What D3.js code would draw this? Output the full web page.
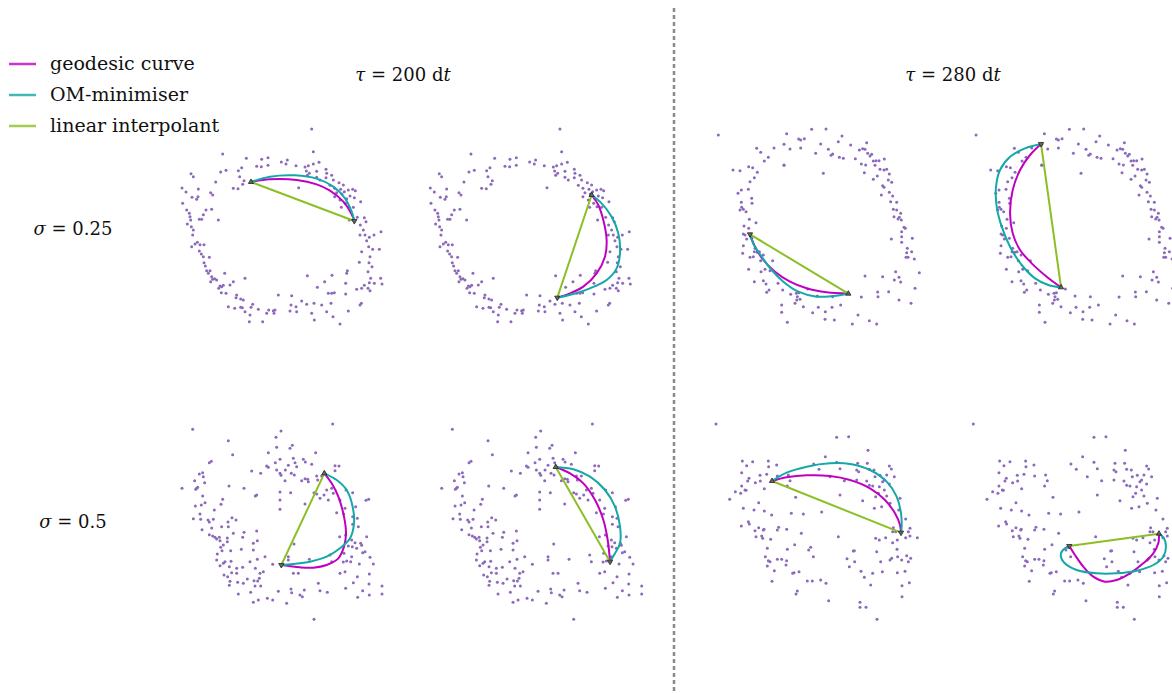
<!DOCTYPE html>
<html>
<head>
<meta charset="utf-8">
<script src="https://cdn.jsdelivr.net/npm/d3@7"></script>
<style>
body { margin: 0; background: #fff; }
text { font-family: "DejaVu Serif", "Liberation Serif", serif; fill: #111; }
</style>
</head>
<body>
<svg id="chart" width="1172" height="693"></svg>
<script>
// sample clouds (units: 1/3 px inside each panel frame)
var cloudA = [[425,27],[430,95],[158,102],[229,115],[275,118],[294,113],[334,126],[352,120],[348,132],[260,139],[274,140],[294,136],[215,143],[205,152],[152,156],[168,151],[378,137],[405,141],[415,137],[430,132],[447,127],[409,153],[418,160],[440,154],[468,148],[470,160],[485,166],[440,172],[412,166],[468,173],[63,161],[70,170],[137,186],[209,170],[222,182],[218,193],[190,205],[204,206],[386,203],[450,180],[480,196],[490,180],[507,188],[520,195],[512,208],[494,205],[500,218],[516,222],[523,215],[535,210],[548,208],[556,212],[494,230],[510,240],[530,236],[540,228],[553,233],[572,245],[526,250],[536,260],[514,262],[550,262],[36,204],[48,216],[66,232],[84,230],[80,238],[85,207],[122,218],[128,225],[38,250],[50,270],[58,280],[60,290],[62,300],[52,312],[64,320],[70,330],[68,345],[95,298],[100,284],[108,270],[125,268],[88,298],[145,300],[538,300],[562,292],[583,293],[588,305],[571,315],[580,330],[570,345],[585,345],[598,352],[590,362],[612,345],[596,380],[633,335],[628,388],[608,388],[575,395],[600,410],[597,428],[606,440],[594,455],[568,427],[532,452],[530,460],[602,475],[598,488],[583,496],[613,490],[632,475],[636,492],[575,505],[594,505],[600,512],[65,380],[75,372],[82,367],[90,374],[102,374],[88,393],[94,402],[100,410],[118,412],[102,428],[106,438],[110,452],[120,452],[115,460],[125,470],[128,478],[122,485],[134,476],[140,480],[164,460],[150,498],[155,500],[160,496],[146,505],[154,518],[168,520],[180,495],[190,485],[225,475],[412,467],[486,466],[464,485],[475,520],[485,520],[493,518],[527,490],[527,522],[560,508],[574,550],[570,555],[442,502],[200,525],[198,533],[212,537],[220,540],[217,563],[175,560],[194,565],[212,562],[225,575],[243,562],[248,553],[240,585],[238,605],[278,605],[265,568],[290,580],[296,570],[310,572],[315,570],[312,580],[325,525],[360,573],[365,527],[378,560],[380,575],[395,543],[410,553],[432,550],[425,580],[433,600],[455,555],[470,575],[483,550],[489,590],[510,612],[535,573],[363,555]];

var cloudB = [[55,45],[260,41],[335,28],[378,27],[426,48],[415,65],[452,75],[500,68],[478,90],[488,86],[495,88],[503,100],[515,103],[510,108],[170,85],[182,97],[222,84],[252,73],[270,87],[296,57],[302,60],[313,56],[302,84],[362,72],[347,100],[385,88],[398,102],[393,106],[418,112],[430,115],[466,116],[484,132],[497,135],[520,123],[528,122],[537,122],[525,136],[553,117],[540,148],[552,150],[560,148],[205,112],[193,123],[252,136],[370,160],[493,158],[520,178],[532,168],[568,162],[575,187],[565,180],[548,197],[552,202],[99,150],[120,152],[146,140],[158,143],[172,157],[163,173],[150,185],[124,210],[114,220],[145,208],[155,235],[124,247],[156,250],[125,262],[130,268],[120,270],[138,275],[148,298],[168,308],[132,318],[146,325],[130,342],[135,345],[155,355],[140,357],[130,377],[128,400],[150,412],[160,410],[163,395],[172,397],[165,385],[178,395],[190,405],[182,422],[218,422],[146,448],[183,455],[195,448],[210,452],[190,482],[163,485],[198,492],[234,490],[248,510],[200,517],[207,510],[272,523],[290,540],[285,550],[296,518],[300,538],[310,560],[352,528],[338,578],[355,562],[376,575],[396,562],[422,555],[398,530],[375,598],[403,600],[245,555],[245,577],[262,607],[457,612],[474,585],[508,602],[530,612],[484,531],[495,468],[533,516],[534,530],[566,515],[548,470],[597,540],[633,550],[645,505],[587,455],[583,480],[602,486],[597,472],[658,458],[544,225],[568,217],[578,228],[572,245],[590,247],[580,268],[590,270],[602,280],[598,292],[582,290],[594,297],[604,300],[612,322],[616,325],[605,335],[574,357],[605,350],[605,367],[637,355],[622,385],[620,398],[635,395],[624,412],[618,412],[643,417],[252,135],[289,520],[292,530],[323,507]];

var cloudC = [[68,28],[488,12],[333,33],[318,52],[175,62],[188,104],[118,128],[124,124],[295,98],[320,82],[360,85],[367,76],[437,98],[400,118],[406,126],[370,115],[375,128],[355,136],[380,140],[330,118],[316,128],[425,133],[290,138],[295,142],[245,153],[272,160],[320,150],[346,150],[330,160],[364,160],[373,165],[333,166],[345,182],[395,182],[405,176],[413,178],[415,185],[495,137],[507,138],[495,152],[440,168],[443,180],[455,168],[88,162],[98,158],[100,170],[74,182],[104,188],[80,205],[77,208],[83,202],[36,205],[177,198],[222,205],[260,225],[256,228],[330,216],[362,218],[330,240],[330,268],[98,228],[105,248],[94,255],[76,258],[158,238],[153,253],[133,270],[405,252],[440,222],[432,218],[462,225],[450,235],[470,210],[485,205],[490,220],[475,240],[510,240],[528,210],[548,218],[588,241],[596,238],[557,260],[525,265],[500,278],[521,282],[562,295],[548,313],[565,320],[70,296],[90,282],[92,298],[114,300],[118,306],[130,298],[174,306],[186,293],[198,300],[155,320],[175,320],[125,324],[96,329],[190,340],[222,337],[118,344],[128,348],[135,352],[140,357],[148,352],[150,362],[172,354],[172,365],[218,352],[260,333],[262,362],[250,370],[160,375],[152,382],[156,392],[182,392],[214,388],[250,390],[142,402],[140,420],[150,437],[160,430],[165,425],[183,424],[178,440],[200,445],[218,442],[240,425],[262,418],[285,410],[308,433],[256,445],[185,458],[162,465],[173,470],[200,460],[180,484],[178,496],[203,487],[220,490],[232,477],[252,482],[268,475],[263,483],[280,455],[270,460],[255,498],[272,498],[205,522],[242,517],[325,514],[363,507],[365,518],[250,547],[265,540],[292,535],[308,540],[350,550],[390,525],[397,530],[403,510],[372,372],[355,410],[355,420],[370,460],[385,460],[418,418],[445,490],[450,512],[472,517],[510,460],[525,455],[527,505],[550,488],[562,470],[598,462],[578,512],[597,492],[598,525],[636,498],[636,522],[563,532],[509,350],[527,345],[535,378],[545,360],[547,380],[555,368],[560,385],[572,370],[575,376],[590,350],[578,398],[585,395],[600,412],[610,432],[568,432],[545,410],[542,425],[530,423],[520,426],[432,598],[480,405],[485,425],[522,400],[548,290]];

var cloudD = [[48,42],[410,82],[446,80],[504,121],[376,140],[127,153],[140,167],[158,155],[205,153],[230,165],[206,170],[341,162],[357,178],[410,157],[420,176],[473,160],[476,185],[470,180],[502,160],[508,178],[522,180],[568,168],[574,177],[125,188],[180,196],[200,193],[147,205],[143,213],[166,218],[181,213],[193,236],[125,228],[135,240],[106,245],[122,250],[138,241],[89,268],[232,198],[270,212],[262,228],[287,262],[265,195],[390,200],[433,212],[470,210],[500,213],[525,200],[540,196],[553,210],[560,195],[583,200],[548,215],[538,230],[553,240],[568,222],[518,228],[508,226],[535,250],[420,255],[527,260],[488,272],[560,258],[570,280],[600,265],[545,290],[523,295],[596,300],[130,295],[162,300],[176,278],[193,303],[215,315],[274,310],[310,312],[365,306],[124,348],[145,335],[148,342],[165,362],[176,353],[190,360],[192,358],[185,378],[188,385],[168,380],[212,388],[236,352],[232,360],[260,358],[304,370],[617,327],[580,353],[587,365],[578,365],[625,365],[630,355],[652,383],[617,383],[630,378],[592,390],[527,385],[538,390],[557,383],[578,398],[415,380],[284,404],[332,412],[326,420],[340,440],[262,418],[202,415],[196,440],[205,452],[210,455],[232,448],[245,448],[260,452],[258,465],[202,468],[223,482],[297,485],[282,488],[278,490],[322,513],[337,513],[362,510],[378,520],[292,543],[288,552],[216,514],[460,423],[463,422],[530,425],[441,446],[448,470],[464,455],[483,484],[493,502],[512,525],[518,490],[547,485],[542,455],[570,450],[575,445],[591,418],[593,440],[605,450],[620,437],[632,445],[625,455],[592,488],[615,484],[628,518],[606,527],[606,560],[386,572],[480,577],[480,592],[498,592],[531,628]];

// curves per panel: geodesic, OM-minimiser, linear (start -> end)
var geo1 = [[243,186],[300,178],[380,180],[440,193],[480,212],[520,245],[545,283],[553,303]];
var om1  = [[243,186],[300,170],[375,166],[440,176],[490,200],[525,235],[545,275],[553,303]];
var lin1 = [[243,186],[553,303]];

var geo2 = [[520,225],[540,255],[555,300],[565,360],[560,410],[535,460],[495,500],[455,520],[417,533]];
var om2  = [[520,225],[550,250],[580,290],[600,340],[605,400],[595,445],[565,480],[515,505],[465,522],[417,533]];
var lin2 = [[520,225],[417,533]];

var geo3 = [[150,343],[165,380],[190,420],[225,455],[270,485],[320,505],[380,517],[445,521]];
var om3  = [[150,343],[162,375],[185,410],[215,450],[250,485],[295,515],[350,530],[400,528],[445,521]];
var lin3 = [[445,521],[150,343]];

var geo4 = [[250,72],[217,105],[187,150],[165,210],[157,280],[165,340],[187,390],[222,430],[267,470],[310,502]];
var om4  = [[250,72],[202,85],[157,110],[127,150],[115,200],[117,260],[132,320],[157,380],[192,435],[232,475],[272,495],[310,502]];
var lin4 = [[310,502],[250,72]];

var geo5 = [[463,160],[485,190],[505,230],[522,290],[528,340],[522,380],[505,415],[470,435],[430,443],[390,442],[334,435]];
var om5  = [[463,160],[500,180],[530,210],[548,260],[552,310],[540,355],[510,385],[470,410],[420,425],[370,432],[334,435]];
var lin5 = [[463,160],[334,435]];

var geo6 = [[378,141],[421,160],[461,190],[496,240],[521,300],[534,360],[541,425]];
var om6  = [[378,141],[431,148],[481,170],[526,210],[556,260],[571,320],[571,370],[556,400],[541,425]];
var lin6 = [[378,141],[541,425]];

var geo7 = [[216,213],[260,202],[320,196],[390,198],[450,210],[510,235],[555,270],[585,310],[600,345],[603,368]];
var om7  = [[216,213],[260,188],[320,170],[390,160],[450,162],[510,180],[560,215],[590,260],[603,310],[605,350],[603,368]];
var lin7 = [[216,213],[603,368]];

var geo8 = [[336,408],[353,435],[378,470],[408,500],[443,515],[478,510],[518,490],[558,460],[588,430],[603,400],[605,371]];
var om8  = [[336,408],[323,415],[311,430],[318,455],[358,480],[418,490],[478,490],[538,482],[588,465],[618,440],[626,410],[620,385],[605,371]];
var lin8 = [[605,371],[336,408]];

var tauLabels = ['200', '280'];
var sigmaLabels = ['0.25', '0.5'];
var legendNames = ['geodesic curve', 'OM-minimiser', 'linear interpolant'];

var colors = { geo: '#c000c0', om: '#14a8a8', lin: '#8cbf26', pts: '#8c69bb' };

// panel frames: where each cloud frame sits on the page
var panels = [
  {cloud: cloudA, geo: geo1, om: om1, lin: lin1, x: 170,   y: 120},
  {cloud: cloudA, geo: geo2, om: om2, lin: lin2, x: 418.3, y: 120},
  {cloud: cloudB, geo: geo3, om: om3, lin: lin3, x: 700,   y: 120},
  {cloud: cloudB, geo: geo4, om: om4, lin: lin4, x: 957.7, y: 120},
  {cloud: cloudC, geo: geo5, om: om5, lin: lin5, x: 170,   y: 420},
  {cloud: cloudC, geo: geo6, om: om6, lin: lin6, x: 429.7, y: 420},
  {cloud: cloudD, geo: geo7, om: om7, lin: lin7, x: 700,   y: 410},
  {cloud: cloudD, geo: geo8, om: om8, lin: lin8, x: 957.3, y: 410}
];

var svg = d3.select('#chart');
svg.append('rect').attr('width', 1172).attr('height', 693).attr('fill', '#fff');

panels.forEach(function(p){
  var x = d3.scaleLinear().domain([0, 690]).range([p.x, p.x + 230]);
  var y = d3.scaleLinear().domain([0, 690]).range([p.y, p.y + 230]);
  var g = svg.append('g');

  g.selectAll('circle').data(p.cloud).enter().append('circle')
    .attr('cx', function(d){ return x(d[0]); })
    .attr('cy', function(d){ return y(d[1]); })
    .attr('r', 1.5)
    .attr('fill', colors.pts);

  var line = d3.line()
    .x(function(d){ return x(d[0]); })
    .y(function(d){ return y(d[1]); })
    .curve(d3.curveCatmullRom.alpha(0.5));

  g.append('path').attr('d', line(p.geo)).attr('fill', 'none').attr('stroke', colors.geo).attr('stroke-width', 2);
  g.append('path').attr('d', line(p.om)).attr('fill', 'none').attr('stroke', colors.om).attr('stroke-width', 2);
  g.append('path').attr('d', d3.line().x(function(d){ return x(d[0]); }).y(function(d){ return y(d[1]); })(p.lin))
    .attr('fill', 'none').attr('stroke', colors.lin).attr('stroke-width', 2);

  // endpoint markers: up triangle at first, down triangle at second
  var tri = d3.symbol().type(d3.symbolTriangle).size(12);
  g.selectAll('path.mk').data(p.lin).enter().append('path')
    .attr('class', 'mk')
    .attr('d', tri)
    .attr('transform', function(d, i){ return 'translate(' + x(d[0]) + ',' + y(d[1]) + ') rotate(' + (i ? 180 : 0) + ')'; })
    .attr('fill', '#666').attr('stroke', '#222').attr('stroke-width', 0.8);
});

// column titles
var colX = d3.scaleOrdinal().domain(tauLabels).range([403, 953]);
tauLabels.forEach(function(t){
  var txt = svg.append('text').attr('x', colX(t)).attr('y', 81).attr('text-anchor', 'middle').style('font-size', '18px');
  txt.append('tspan').attr('font-style', 'italic').text('τ');
  txt.append('tspan').text(' = ' + t + ' d');
  txt.append('tspan').attr('font-style', 'italic').text('t');
});

// row labels
var rowY = d3.scaleOrdinal().domain(sigmaLabels).range([235, 528]);
sigmaLabels.forEach(function(s){
  var txt = svg.append('text').attr('x', 73).attr('y', rowY(s)).attr('text-anchor', 'middle').style('font-size', '18px');
  txt.append('tspan').attr('font-style', 'italic').text('σ');
  txt.append('tspan').text(' = ' + s);
});

// separator
svg.append('line').attr('x1', 674).attr('x2', 674).attr('y1', 8).attr('y2', 693)
  .attr('stroke', '#8a8a8a').attr('stroke-width', 2.5).attr('stroke-dasharray', '4,3');

// legend
var legColors = [colors.geo, colors.om, colors.lin];
var legY = d3.scalePoint().domain(legendNames).range([64, 126]);
legendNames.forEach(function(n, i){
  svg.append('line').attr('x1', 9).attr('x2', 36).attr('y1', legY(n)).attr('y2', legY(n))
    .attr('stroke', legColors[i]).attr('stroke-width', 2.5).attr('opacity', 0.8);
  svg.append('text').attr('x', 50).attr('y', legY(n) + 6).style('font-size', '19px').text(n);
});
</script>
</body>
</html>
